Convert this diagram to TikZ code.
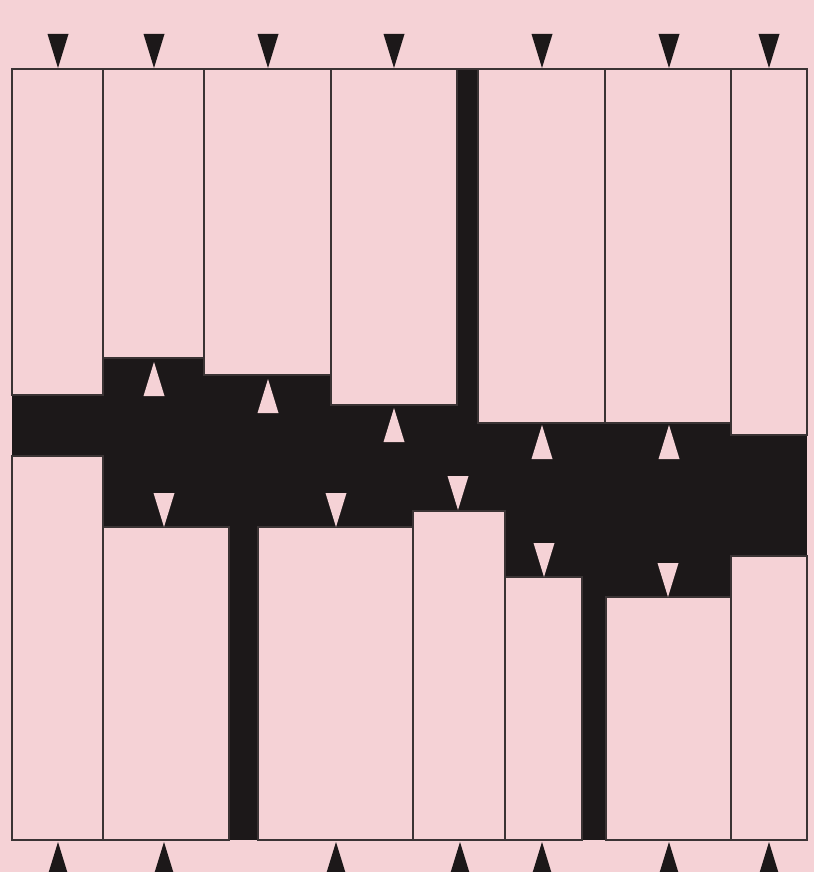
\documentclass[tikz,border=0pt]{standalone}
\definecolor{bgpink}{HTML}{F5D2D6}
\definecolor{ink}{HTML}{1C1819}
\definecolor{edge}{HTML}{3A3334}
\tikzset{
  panel/.style={fill=bgpink, draw=edge, line width=2pt},
  blk/.style={fill=ink},
  pk/.style={fill=bgpink},
}
\newcommand{\tdown}[3]{\fill[#3] (#1-10.5,#2-34) -- (#1+10.5,#2-34) -- (#1,#2) -- cycle;}
\newcommand{\tup}[3]{\fill[#3] (#1-10.5,#2+34) -- (#1+10.5,#2+34) -- (#1,#2) -- cycle;}
\begin{document}
\begin{tikzpicture}[x=1pt,y=-1pt]
\useasboundingbox (0,0) rectangle (814,872);
\clip (0,0) rectangle (814,872);
\fill[bgpink] (0,0) rectangle (814,872);
% black field
\fill[ink] (12,69) rectangle (807,840);
% top panels
\draw[panel] (12,69) rectangle (103,395);
\draw[panel] (103,69) rectangle (204,358);
\draw[panel] (204,69) rectangle (331,375);
\draw[panel] (331,69) rectangle (457,405);
\draw[panel] (478,69) rectangle (605,423);
\draw[panel] (605,69) rectangle (731,423);
\draw[panel] (731,69) rectangle (807,435);
% bottom panels
\draw[panel] (12,456) rectangle (103,840);
\draw[panel] (103,527) rectangle (229,840);
\draw[panel] (258,527) rectangle (413,840);
\draw[panel] (413,511) rectangle (505,840);
\draw[panel] (505,577) rectangle (582,840);
\draw[panel] (606,597) rectangle (731,840);
\draw[panel] (731,556) rectangle (807,840);
% frame top line over gap
\draw[edge, line width=2pt] (12,69) -- (807,69);
% top black triangles
\tdown{58}{68}{blk}
\tdown{154}{68}{blk}
\tdown{268}{68}{blk}
\tdown{394}{68}{blk}
\tdown{542}{68}{blk}
\tdown{669}{68}{blk}
\tdown{769}{68}{blk}
% bottom black triangles
\tup{58}{842}{blk}
\tup{164}{842}{blk}
\tup{336}{842}{blk}
\tup{460}{842}{blk}
\tup{542}{842}{blk}
\tup{669}{842}{blk}
\tup{769}{842}{blk}
% pink up triangles
\tup{154}{362}{pk}
\tup{268}{379}{pk}
\tup{394}{408}{pk}
\tup{542}{425}{pk}
\tup{669}{425}{pk}
% pink down triangles
\tdown{164}{527}{pk}
\tdown{336}{527}{pk}
\tdown{458}{510}{pk}
\tdown{544}{577}{pk}
\tdown{668}{597}{pk}
\end{tikzpicture}
\end{document}
